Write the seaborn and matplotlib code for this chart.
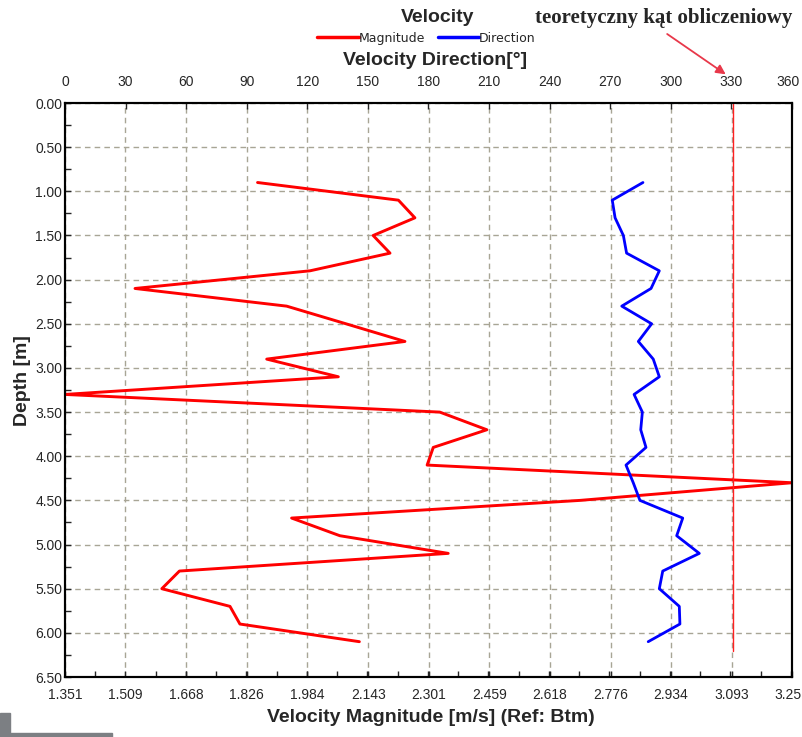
import matplotlib
matplotlib.use('Agg')
import matplotlib.pyplot as plt
import matplotlib.transforms as mtransforms
import seaborn as sns
import pandas as pd
from matplotlib.ticker import MultipleLocator, AutoMinorLocator, FixedLocator
from matplotlib.patches import Rectangle

# profile data
depth = [0.9, 1.1, 1.3, 1.5, 1.7, 1.9, 2.1, 2.3, 2.5, 2.7, 2.9, 3.1, 3.3, 3.5,
         3.7, 3.9, 4.1, 4.3, 4.5, 4.7, 4.9, 5.1, 5.3, 5.5, 5.7, 5.9, 6.1]
magnitude = [1.854, 2.222, 2.265, 2.156, 2.200, 1.991, 1.534, 1.930, 2.085,
             2.239, 1.878, 2.065, 1.351, 2.330, 2.453, 2.313, 2.297, 3.250,
             2.696, 1.943, 2.069, 2.352, 1.650, 1.604, 1.782, 1.808, 2.120]
direction = [286.2, 271.0, 272.4, 276.5, 278.1, 294.3, 290.2, 275.7, 290.5,
             283.9, 291.3, 294.3, 281.8, 285.9, 285.1, 287.7, 277.8, 281.4,
             284.7, 305.9, 302.9, 314.1, 296.0, 294.3, 304.2, 304.5, 288.8]

mag_ticks = [1.351, 1.509, 1.668, 1.826, 1.984, 2.143, 2.301, 2.459, 2.618,
             2.776, 2.934, 3.093, 3.25]
mag_labels = ['1.351', '1.509', '1.668', '1.826', '1.984', '2.143', '2.301',
              '2.459', '2.618', '2.776', '2.934', '3.093', '3.25']
dir_ticks = [0, 30, 60, 90, 120, 150, 180, 210, 240, 270, 300, 330, 360]

theo_angle = 331
theo_depth = [0.0, 6.2]

df = pd.DataFrame({'depth': depth, 'magnitude': magnitude, 'direction': direction})

sns.set_style('white')
plt.rcParams['font.family'] = ['Liberation Sans', 'DejaVu Sans']
bold_sans = ['Liberation Sans', 'DejaVu Sans']

fig = plt.figure(figsize=(8.03, 7.37), dpi=100)
ax = fig.add_axes([0.0809, 0.0814, 0.9054, 0.7788])
ax2 = ax.twiny()

grid_kw = dict(color='#a8a595', linestyle=(0, (4, 3)), linewidth=1.0)

sns.lineplot(data=df, x='magnitude', y='depth', orient='y', sort=False,
             color='#ff0000', linewidth=2.1, ax=ax)
sns.lineplot(data=df, x='direction', y='depth', orient='y', sort=False,
             color='#0000ff', linewidth=2.0, ax=ax2)
ax2.plot([theo_angle, theo_angle], theo_depth, color='#ff2020', linewidth=1.0)

ax.set_xlim(mag_ticks[0], mag_ticks[-1])
ax.set_ylim(6.5, 0)
ax2.set_xlim(0, 360)
ax2.set_ylim(6.5, 0)

ax.xaxis.set_major_locator(FixedLocator(mag_ticks))
ax.set_xticklabels(mag_labels)
ax.xaxis.set_minor_locator(AutoMinorLocator(2))
ax.yaxis.set_major_locator(MultipleLocator(0.5))
ax.yaxis.set_minor_locator(AutoMinorLocator(2))
ax.yaxis.set_major_formatter(matplotlib.ticker.FormatStrFormatter('%.2f'))
ax2.set_xticks(dir_ticks)
ax2.set_xticklabels([str(t) for t in dir_ticks])

ax.grid(True, which='major', **grid_kw)
ax2.grid(False)
ax.set_axisbelow(True)

ax.tick_params(axis='x', which='both', direction='in', length=4, width=1,
               labelsize=10, pad=8, bottom=True, top=False)
ax.tick_params(axis='y', which='both', direction='in', length=4, width=1,
               labelsize=10, pad=2, left=True, right=False)
ax2.tick_params(axis='x', which='both', direction='in', length=4, width=1,
                labelsize=10, pad=10, top=True)

# last labels sit against the right edge, as in the screenshot
shift = mtransforms.ScaledTranslation(-3 / 72, 0, fig.dpi_scale_trans)
for lab in (ax.get_xticklabels()[-1], ax2.get_xticklabels()[-1]):
    lab.set_transform(lab.get_transform() + shift)

for a in (ax, ax2):
    a.set_xlabel('')
    a.set_ylabel('')
    for s in a.spines.values():
        s.set_visible(True)
        s.set_color('black')
        s.set_linewidth(1.5)

fig.text(0.545, 0.976, 'Velocity', ha='center', va='center', fontsize=14,
         fontweight='bold', family=bold_sans)
fig.text(0.542, 0.918, 'Velocity Direction[°]', ha='center', va='center',
         fontsize=14, fontweight='bold', family=bold_sans)
fig.text(0.536, 0.026, 'Velocity Magnitude [m/s] (Ref: Btm)', ha='center',
         va='center', fontsize=14, fontweight='bold', family=bold_sans)
fig.text(0.028, 0.484, 'Depth [m]', ha='center', va='center', rotation=90,
         fontsize=14, fontweight='bold', family=bold_sans)

fig.text(0.827, 0.975, 'teoretyczny kąt obliczeniowy', ha='center', va='center',
         fontsize=15, fontweight='bold', family=['Liberation Serif', 'DejaVu Serif'])
fig.add_artist(matplotlib.patches.FancyArrowPatch(
    (0.828, 0.956), (0.9066, 0.897), transform=fig.transFigure,
    arrowstyle='-|>', mutation_scale=14, color='#e8384a', linewidth=1.3))

handles = [plt.Line2D([], [], color='#ff0000', linewidth=2.5),
           plt.Line2D([], [], color='#0000ff', linewidth=2.5)]
fig.legend(handles, ['Magnitude', 'Direction'], loc='center',
           bbox_to_anchor=(0.531, 0.948), ncol=2, frameon=False,
           prop={'family': 'DejaVu Sans', 'size': 9}, handlelength=3.3,
           handletextpad=0.0, columnspacing=1.0, borderpad=0)

# grey window scrap in the bottom-left corner of the screenshot
fig.patches.append(Rectangle((0, 0), 0.0125, 0.033, transform=fig.transFigure,
                             color='#7c7f83', zorder=0))
fig.patches.append(Rectangle((0, 0), 0.139, 0.006, transform=fig.transFigure,
                             color='#7c7f83', zorder=0))

fig.savefig('out.png', dpi=100)
